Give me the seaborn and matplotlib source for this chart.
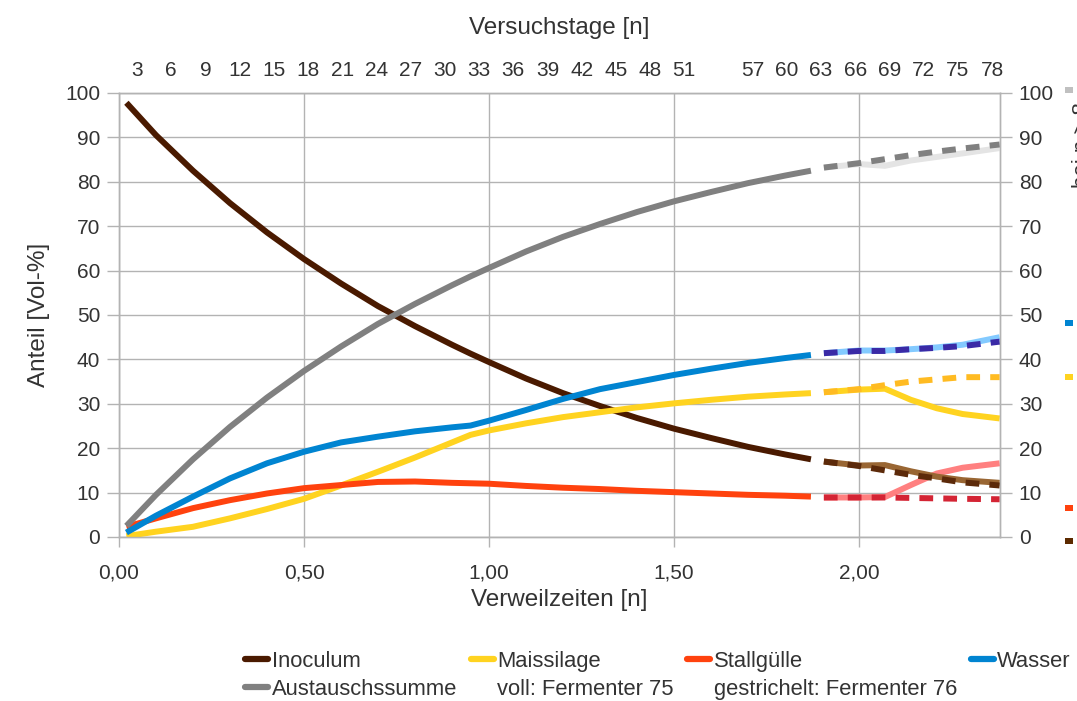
import matplotlib
matplotlib.use("Agg")
import matplotlib.pyplot as plt
from matplotlib.lines import Line2D
from matplotlib.patches import Rectangle
from matplotlib.ticker import FuncFormatter
import seaborn as sns

# --- Versuchsverlauf bis Tag ~63 (beide Fermenter identisch) ---
vz = [0.02, 0.1, 0.2, 0.3, 0.4, 0.5, 0.6, 0.7, 0.8, 0.9, 0.95, 1.0,
      1.1, 1.2, 1.3, 1.4, 1.5, 1.6, 1.7, 1.8, 1.87]
inoculum = [97.8, 90.5, 82.5, 75.2, 68.6, 62.6, 57.1, 52.0, 47.5, 43.3, 41.3, 39.4,
            35.7, 32.4, 29.5, 26.8, 24.4, 22.3, 20.3, 18.6, 17.5]
austausch = [2.5, 9.5, 17.5, 24.8, 31.4, 37.4, 42.9, 48.0, 52.5, 56.7, 58.7, 60.6,
             64.3, 67.6, 70.5, 73.2, 75.6, 77.7, 79.7, 81.4, 82.5]
maissilage = [0.2, 1.2, 2.3, 4.2, 6.3, 8.6, 11.6, 14.7, 17.9, 21.3, 23.0, 24.0,
              25.6, 27.0, 28.1, 29.2, 30.1, 30.9, 31.6, 32.1, 32.4]
stallguelle = [2.3, 4.2, 6.5, 8.3, 9.8, 11.0, 11.7, 12.4, 12.5, 12.2, 12.1, 12.0,
               11.5, 11.1, 10.8, 10.4, 10.1, 9.8, 9.5, 9.3, 9.1]
wasser = [1.0, 4.8, 9.1, 13.2, 16.6, 19.2, 21.3, 22.6, 23.8, 24.7, 25.1, 26.2,
          28.6, 31.1, 33.3, 34.9, 36.5, 37.9, 39.2, 40.3, 41.0]

# --- getrennter Verlauf ab Tag ~64 ---
vz_end = [1.905, 2.0, 2.07, 2.14, 2.21, 2.28, 2.38]
# Fermenter 75 (voll)
f75_austausch = [83.2, 84.0, 83.6, 84.8, 85.6, 86.4, 87.6]
f75_inoculum = [17.0, 16.1, 16.2, 14.8, 13.6, 12.8, 12.2]
f75_maissilage = [32.6, 33.2, 33.4, 30.9, 29.0, 27.7, 26.7]
f75_stallguelle = [8.9, 8.9, 9.0, 11.7, 14.3, 15.6, 16.6]
f75_wasser = [41.4, 42.0, 42.0, 42.3, 42.7, 43.3, 45.0]
# Fermenter 76 (gestrichelt)
f76_austausch = [83.2, 84.2, 85.1, 86.0, 86.8, 87.5, 88.4]
f76_inoculum = [17.0, 16.0, 15.0, 14.0, 13.2, 12.3, 11.6]
f76_maissilage = [32.6, 33.3, 34.2, 35.0, 35.5, 36.0, 36.0]
f76_stallguelle = [8.9, 8.9, 8.9, 8.8, 8.7, 8.6, 8.5]
f76_wasser = [41.4, 41.9, 41.9, 42.3, 42.6, 43.0, 44.0]

versuchstage = [3, 6, 9, 12, 15, 18, 21, 24, 27, 30, 33, 36, 39, 42, 45, 48, 51,
                57, 60, 63, 66, 69, 72, 75, 78]
vz_ticks = [0.0, 0.5, 1.0, 1.5, 2.0]
anteil_ticks = [0, 10, 20, 30, 40, 50, 60, 70, 80, 90, 100]

sns.set_theme(style="white")
plt.rcParams["font.family"] = ["Liberation Sans", "DejaVu Sans"]
TXT = "#333333"
GRID = "#b3b3b3"

W, H = 1077, 701
fig = plt.figure(figsize=(W / 100, H / 100), dpi=100)
ax = fig.add_axes([119 / W, 164 / H, 881 / W, 444 / H])

LW = 4.3
DASH = (0, (2.3, 1.7))

main = [
    (inoculum, "#4a1a00"),
    (maissilage, "#ffd320"),
    (stallguelle, "#ff420e"),
    (wasser, "#0084d1"),
    (austausch, "#808080"),
]
for vals, col in main:
    sns.lineplot(x=vz, y=vals, ax=ax, color=col, lw=LW, errorbar=None,
                 sort=False, solid_capstyle="butt", solid_joinstyle="round",
                 zorder=3)

solid75 = [
    (f75_austausch, "#e4e4e4"),
    (f75_wasser, "#83caff"),
    (f75_maissilage, "#ffd320"),
    (f75_stallguelle, "#ff8080"),
    (f75_inoculum, "#996633"),
]
for vals, col in solid75:
    sns.lineplot(x=vz_end, y=vals, ax=ax, color=col, lw=LW, errorbar=None,
                 sort=False, solid_capstyle="butt", solid_joinstyle="round",
                 zorder=3)

dashed76 = [
    (f76_austausch, "#808080"),
    (f76_wasser, "#3a2aa6"),
    (f76_maissilage, "#ffbb22"),
    (f76_stallguelle, "#d42434"),
    (f76_inoculum, "#5c2a0a"),
]
for vals, col in dashed76:
    sns.lineplot(x=vz_end, y=vals, ax=ax, color=col, lw=LW, errorbar=None,
                 sort=False, linestyle=DASH, dash_capstyle="butt", zorder=4)

ax.set_xlim(0, 2.381)
ax.set_ylim(0, 100)
ax.set_xticks(vz_ticks)
ax.xaxis.set_major_formatter(FuncFormatter(lambda v, _: f"{v:.2f}".replace(".", ",")))
ax.set_yticks(anteil_ticks)
ax.grid(True, color=GRID, lw=1.0)
ax.set_axisbelow(True)
ax.tick_params(axis="x", length=7, width=1, color=GRID, pad=12,
               labelsize=15, labelcolor=TXT)
ax.tick_params(axis="y", length=8.5, width=1, color=GRID, pad=5,
               labelsize=15, labelcolor=TXT, left=True, right=True,
               labelleft=True, labelright=True)
ax.set_xlabel("Verweilzeiten [n]", fontsize=17.5, color=TXT, labelpad=5)
ax.set_ylabel("Anteil [Vol-%]", fontsize=17.5, color=TXT, labelpad=11)

# secondary x axis: test days
axt = ax.twiny()
axt.set_xlim(1.42, 78.7)
axt.set_xticks(versuchstage)
axt.tick_params(axis="x", length=0, pad=9, labelsize=15, labelcolor=TXT)
axt.set_xlabel("Versuchstage [n]", fontsize=17.5, color=TXT, labelpad=20)
axt.grid(False)

for a in (ax, axt):
    for s in a.spines.values():
        s.set_color(GRID)
        s.set_linewidth(1.0)

# bottom legend
handles = [
    Line2D([], [], color="#4a1a00", lw=4.5),
    Line2D([], [], color="#808080", lw=4.5),
    Line2D([], [], color="#ffd320", lw=4.5),
    Line2D([], [], color="none"),
    Line2D([], [], color="#ff420e", lw=4.5),
    Line2D([], [], color="none"),
    Line2D([], [], color="#0084d1", lw=4.5),
]
labels = ["Inoculum", "Austauschssumme", "Maissilage", "voll: Fermenter 75",
          "Stallgülle", "gestrichelt: Fermenter 76", "Wasser"]
leg = fig.legend(handles, labels, ncol=4, loc="upper left",
                 bbox_to_anchor=(245 / W, 1 - 651 / H), frameon=False,
                 fontsize=15.8, handlelength=1.06, handletextpad=0.15,
                 columnspacing=0.62, labelspacing=0.32, borderpad=0,
                 borderaxespad=0)
for t in leg.get_texts():
    t.set_color(TXT)

# second legend at the right border
for yc, col in [(90, "#c0c0c0"), (323, "#0084d1"), (377, "#ffd320"),
                (508, "#ff420e"), (541, "#5c2a00")]:
    fig.add_artist(Rectangle((1065 / W, 1 - (yc + 3) / H), 8 / W, 6 / H,
                             transform=fig.transFigure, color=col, lw=0))
fig.text(1082 / W, 1 - 145 / H, "bei n > 8", rotation=90, ha="center",
         va="center", fontsize=16, color=TXT)

fig.savefig("out.png", dpi=100)
